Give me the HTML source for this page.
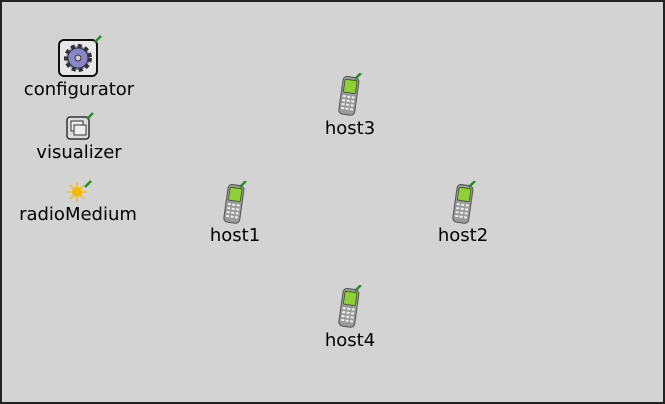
<html><head><style>
body{margin:0;width:665px;height:404px;overflow:hidden;background:#fff}
#f{position:absolute;left:0;top:0;width:661px;height:400px;border:2px solid #222;background:#d3d3d3;}
.l{position:absolute;font:18px "DejaVu Sans",sans-serif;color:#000;transform:translateX(-50%);white-space:nowrap}
svg{position:absolute}
</style></head><body><div id="f">
<svg width="0" height="0"><defs>
<g id="ph">
<g transform="rotate(8 12 22)">
<rect x="3" y="4" width="16" height="38" rx="4" fill="#9a9a9a" stroke="#555" stroke-width="1"/>
<rect x="5" y="7" width="12" height="13" rx="1" fill="#8fcf3a" stroke="#3a5a1a" stroke-width="0.8"/>
<g fill="#eee"><rect x="5" y="23" width="3" height="2"/><rect x="9.5" y="23" width="3" height="2"/><rect x="14" y="23" width="3" height="2"/>
<rect x="5" y="27" width="3" height="2"/><rect x="9.5" y="27" width="3" height="2"/><rect x="14" y="27" width="3" height="2"/>
<rect x="5" y="31" width="3" height="2"/><rect x="9.5" y="31" width="3" height="2"/><rect x="14" y="31" width="3" height="2"/>
<rect x="5" y="35" width="3" height="2"/><rect x="9.5" y="35" width="3" height="2"/><rect x="14" y="35" width="3" height="2"/></g>
</g>
<line x1="17" y1="6" x2="23" y2="0" stroke="#2a8a2a" stroke-width="2.5"/>
</g>
<g id="pin"><line x1="0" y1="6" x2="6" y2="0" stroke="#2a8a2a" stroke-width="2.5"/></g>
</defs></svg>
<svg style="left:55px;top:32px" width="48" height="46">
<rect x="2" y="6" width="38" height="36" rx="5" fill="#e8e8e8" stroke="#111" stroke-width="2"/>
<circle cx="21" cy="24" r="12" fill="#8a86c8" stroke="#333" stroke-width="4" stroke-dasharray="4 3"/>
<circle cx="21" cy="24" r="10" fill="#8a86c8" stroke="#333" stroke-width="1"/>
<circle cx="21" cy="24" r="3" fill="#ccc" stroke="#333"/>
<use href="#pin" x="38" y="2"/>
</svg>
<div class="l" style="left:77px;top:77px">configurator</div>
<svg style="left:63px;top:110px" width="32" height="30">
<rect x="2" y="5" width="22" height="22" rx="3" fill="#ddd" stroke="#333" stroke-width="1.5"/>
<rect x="6" y="9" width="12" height="10" fill="#eee" stroke="#333"/><rect x="9" y="13" width="12" height="10" fill="#eee" stroke="#333"/>
<use href="#pin" x="22" y="1"/>
</svg>
<div class="l" style="left:77px;top:140px">visualizer</div>
<svg style="left:64px;top:178px" width="30" height="26">
<g stroke="#f0c020" stroke-width="1.5"><line x1="11" y1="2" x2="11" y2="22"/><line x1="1" y1="12" x2="21" y2="12"/><line x1="4" y1="5" x2="18" y2="19"/><line x1="18" y1="5" x2="4" y2="19"/></g>
<circle cx="11" cy="12" r="5" fill="#f5b800"/>
<use href="#pin" x="19" y="1"/>
</svg>
<div class="l" style="left:76px;top:202px">radioMedium</div>
<svg style="left:336px;top:71px" width="26" height="46"><use href="#ph"/></svg>
<div class="l" style="left:348px;top:116px">host3</div>
<svg style="left:221px;top:179px" width="26" height="46"><use href="#ph"/></svg>
<div class="l" style="left:233px;top:223px">host1</div>
<svg style="left:450px;top:179px" width="26" height="46"><use href="#ph"/></svg>
<div class="l" style="left:461px;top:223px">host2</div>
<svg style="left:336px;top:283px" width="26" height="46"><use href="#ph"/></svg>
<div class="l" style="left:348px;top:328px">host4</div>
</div></body></html>
